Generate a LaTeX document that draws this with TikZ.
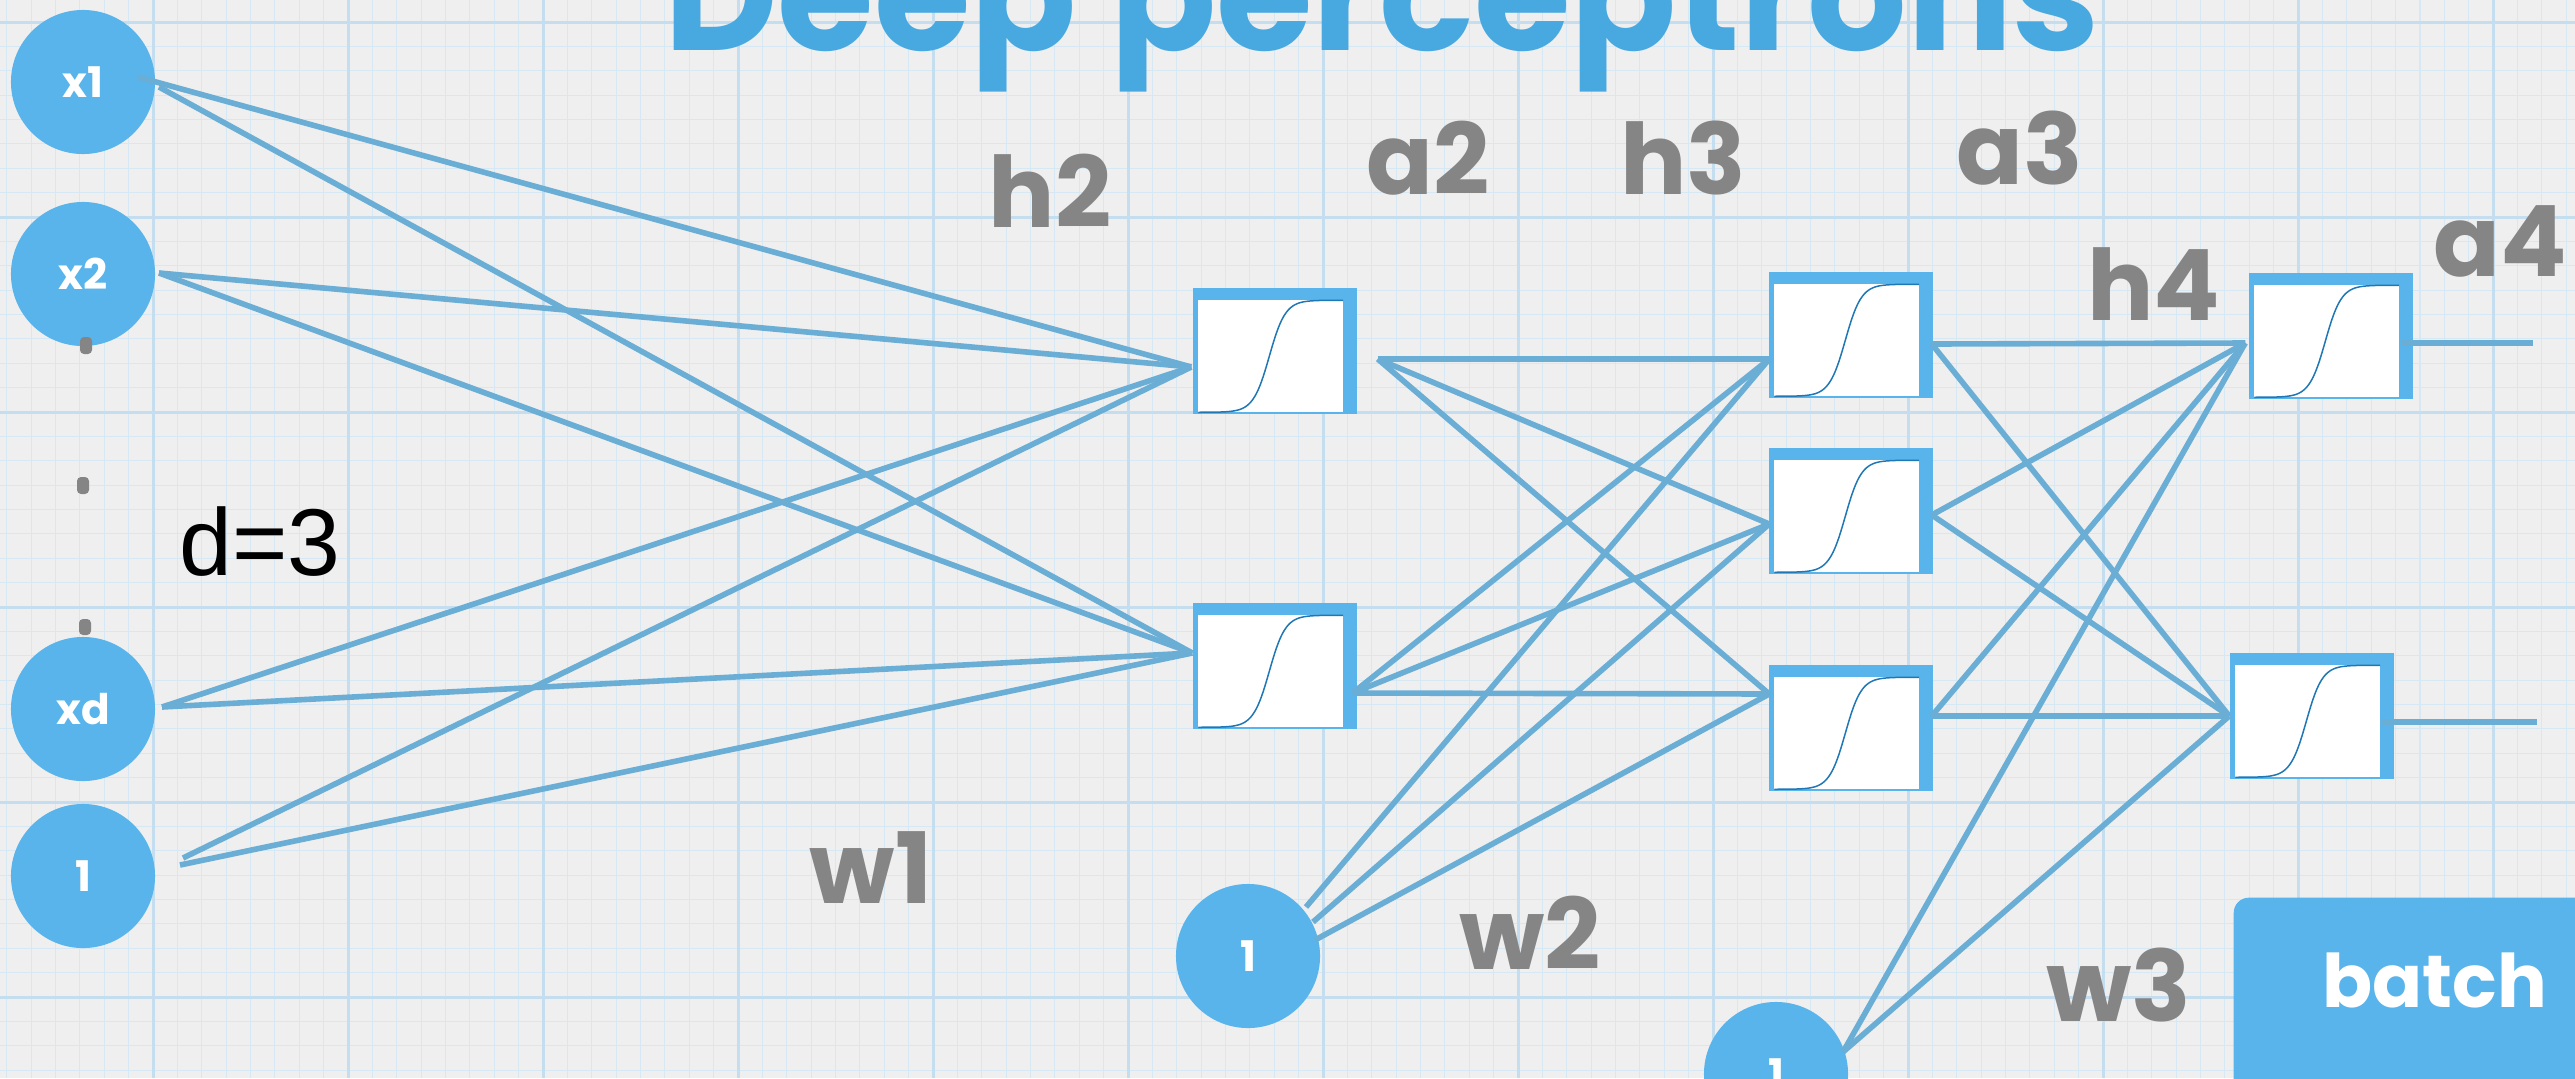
\documentclass[tikz,border=0pt]{standalone}
\usepackage{fontspec}
\setmainfont{Liberation Sans}
\newfontfamily\hand{Poppins}
\usetikzlibrary{calc}
\definecolor{bg}{HTML}{EFEFEF}
\definecolor{gridminor}{HTML}{D6E8F4}
\definecolor{gridmajor}{HTML}{C4DEF0}
\definecolor{nodeblue}{HTML}{58B4EA}
\definecolor{titleblue}{HTML}{48A8E0}
\definecolor{linkblue}{HTML}{6AAED6}
\definecolor{sigblue}{HTML}{1F77B4}
\definecolor{labgray}{HTML}{858585}
\begin{document}
\begin{tikzpicture}[x=0.01cm,y=-0.01cm,
  inode/.style={circle, fill=nodeblue, minimum size=1.44cm, inner sep=0pt, text=white,
    font=\hand\bfseries\fontsize{12}{12}\selectfont},
  sigbox/.style={rectangle, fill=nodeblue, minimum width=1.64cm, minimum height=1.26cm, inner sep=0pt},
  link/.style={draw=linkblue, line width=0.056cm},
  lab/.style={text=labgray, anchor=base, inner sep=0pt, font=\hand\bfseries\fontsize{28}{28}\selectfont},
  minorline/.style={draw=gridminor, line width=0.012cm},
  majorline/.style={draw=gridmajor, line width=0.03cm}]
\useasboundingbox (0,0) rectangle (2575,1078);
\clip (0,0) rectangle (2575,1078);
\fill[bg] (0,0) rectangle (2575,1078);
% grid
\foreach \i in {0,...,105} \draw[minorline] ({6.75+24.375*\i},0) -- ({6.75+24.375*\i},1078);
\foreach \j in {-1,...,44} \draw[minorline] (0,{22+24.375*\j}) -- (2575,{22+24.375*\j});
\foreach \i in {-1,...,13} \draw[majorline] ({153+195*\i},0) -- ({153+195*\i},1078);
\foreach \j in {0,...,5} \draw[majorline] (0,{22+195*\j}) -- (2575,{22+195*\j});

% title (cut by the top edge, as in the reference)
\node[anchor=base, inner sep=0pt, text=titleblue] (title) at (1382,50)
  {\resizebox{14.35cm}{!}{\hand\bfseries Deep perceptrons}};

% input layer
\node[inode] (x1) at (83,82) {x1};
\node[inode] (x2) at (83,274) {x2};
\node[inode] (xd) at (83,709) {xd};
\node[inode] (b1) at (83,876) {1};
\fill[labgray, rounded corners=0.04cm] (80,337) rectangle (92,354);
\fill[labgray, rounded corners=0.04cm] (77,477) rectangle (89,494);
\fill[labgray, rounded corners=0.04cm] (79,619) rectangle (91,635);
\node[anchor=base, inner sep=0pt, font=\fontsize{27}{27}\selectfont] (dlab) at (260,575) {d=3};

% hidden layers
\node[sigbox] (h2t) at (1275,351) {};
\node[sigbox] (h2b) at (1275,666) {};
\node[sigbox] (h3t) at (1851,335) {};
\node[sigbox] (h3m) at (1851,511) {};
\node[sigbox] (h3b) at (1851,728) {};
\node[sigbox] (h4t) at (2331,336) {};
\node[sigbox] (h4b) at (2312,716) {};
\foreach \b in {h2t,h2b,h3t,h3m,h3b,h4t,h4b}{
  \begin{scope}[shift={(\b.north west)}]
    \fill[white] (6,13) rectangle (151,125);
    \draw[sigblue, line width=0.015cm] plot[domain=0:1, samples=70, smooth]
      ({6+145*\x},{125-112/(1+exp(-18*(\x-0.49)))});
  \end{scope}
}
\node[inode] (b2) at (1248,956) {1};
\node[inode] (b3) at (1776,1074) {1};

% ports
\coordinate (x1a) at ([shift={(55,-5)}]x1.center);
\coordinate (x1b) at ([shift={(76,5)}]x1.center);
\coordinate (x2p) at ([shift={(76,-1)}]x2.center);
\coordinate (xdp) at ([shift={(79,-2)}]xd.center);
\coordinate (b1a) at ([shift={(100,-18)}]b1.center);
\coordinate (b1b) at ([shift={(97,-11)}]b1.center);
\coordinate (b2a) at ([shift={(58,-49)}]b2.center);
\coordinate (b2b) at ([shift={(65,-34)}]b2.center);
\coordinate (b2c) at ([shift={(67,-16)}]b2.center);
\coordinate (b3p) at ([shift={(67,-22)}]b3.center);
\coordinate (h2t-in) at ([shift={(-1,16)}]h2t.west);
\coordinate (h2t-out) at ([shift={(20,8)}]h2t.east);
\coordinate (h2b-in) at ([shift={(0,-13)}]h2b.west);
\coordinate (h2b-out) at ([shift={(-5,27)}]h2b.east);
\coordinate (h3t-in) at ([shift={(1,24)}]h3t.west);
\coordinate (h3t-out) at ([shift={(-2,9)}]h3t.east);
\coordinate (h3m-in) at ([shift={(1,13)}]h3m.west);
\coordinate (h3m-out) at ([shift={(-2,4)}]h3m.east);
\coordinate (h3b-in) at ([shift={(1,-34)}]h3b.west);
\coordinate (h3b-out) at ([shift={(-2,-12)}]h3b.east);
\coordinate (h4t-in) at ([shift={(-3,7)}]h4t.west);
\coordinate (h4t-out) at ([shift={(-13,7)}]h4t.east);
\coordinate (h4b-in) at ([shift={(0,0)}]h4b.west);
\coordinate (h4b-out) at ([shift={(-13,6)}]h4b.east);
\coordinate (o1) at (2533,343);
\coordinate (o2) at (2537,722);

% connectors layer 1 -> 2
\draw[link] (x1a) -- (h2t-in);
\draw[link] (x1b) -- (h2b-in);
\draw[link] (x2p) -- (h2t-in);
\draw[link] (x2p) -- (h2b-in);
\draw[link] (xdp) -- (h2t-in);
\draw[link] (xdp) -- (h2b-in);
\draw[link] (b1a) -- (h2t-in);
\draw[link] (b1b) -- (h2b-in);
% layer 2 -> 3
\foreach \s in {h2t-out,h2b-out}{
  \draw[link] (\s) -- (h3t-in);
  \draw[link] (\s) -- (h3m-in);
  \draw[link] (\s) -- (h3b-in);
}
\draw[link] (b2a) -- (h3t-in);
\draw[link] (b2b) -- (h3m-in);
\draw[link] (b2c) -- (h3b-in);
% layer 3 -> 4
\foreach \s in {h3t-out,h3m-out,h3b-out,b3p}{
  \draw[link] (\s) -- (h4t-in);
  \draw[link] (\s) -- (h4b-in);
}
\draw[link] (h4t-out) -- (o1);
\draw[link] (h4b-out) -- (o2);

% labels
\node[lab] (lh2) at (1050,227) {h2};
\node[lab] (la2) at (1428,194) {a2};
\node[lab] (lh3) at (1683,194) {h3};
\node[lab] (la3) at (2020,184) {a3};
\node[lab] (lh4) at (2154,320) {h4};
\node[lab] (la4) at (2500,276) {a4};
\node[lab] (lw1) at (871,903) {w1};
\node[lab] (lw2) at (1530,969) {w2};
\node[lab] (lw3) at (2119,1021) {w3};

% batch box
\node[fill=nodeblue, rounded corners=0.15cm, minimum width=4cm, minimum height=2.6cm,
  anchor=north west, inner sep=0pt] (batch) at (2233,897) {};
\node[anchor=base, inner sep=0pt, text=white, font=\hand\bfseries\fontsize{21}{21}\selectfont]
  (batchtxt) at (2435,1007) {batch};
\end{tikzpicture}
\end{document}
